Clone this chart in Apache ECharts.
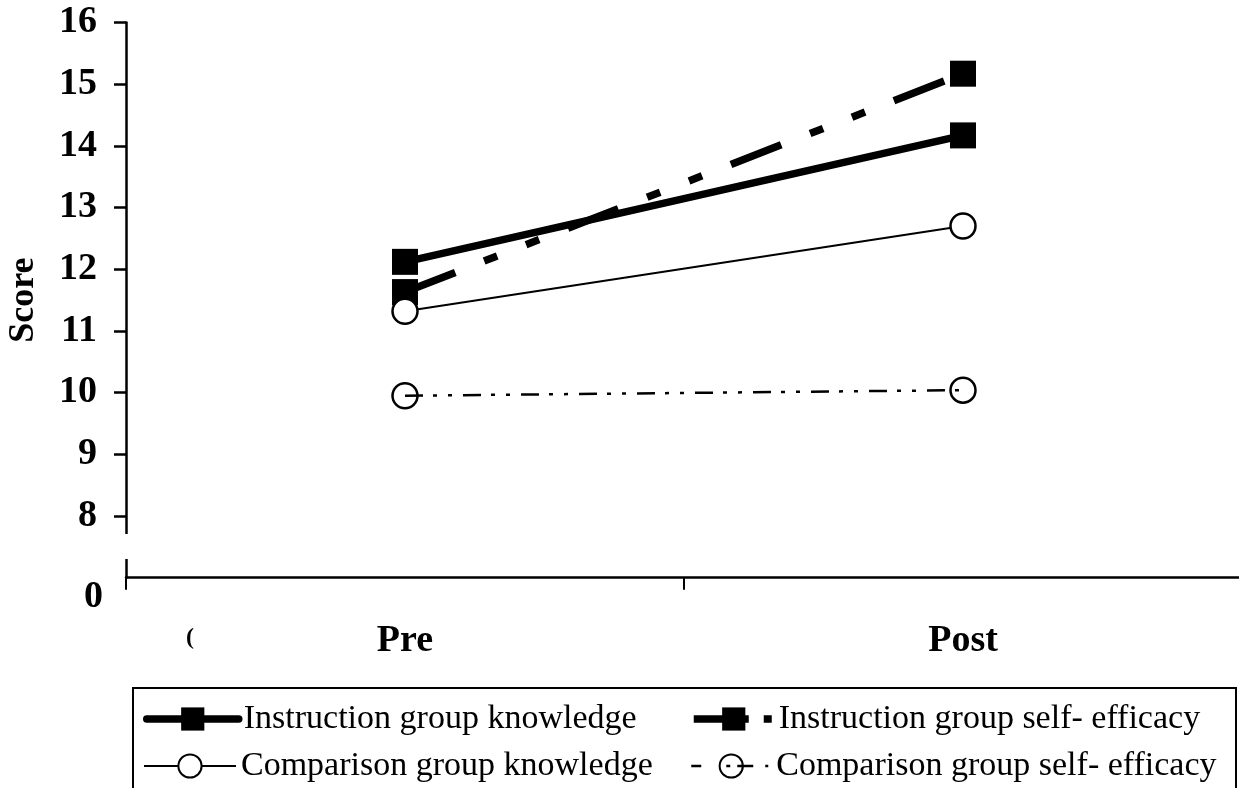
<!DOCTYPE html>
<html>
<head>
<meta charset="utf-8">
<script src="https://cdn.jsdelivr.net/npm/echarts@6/dist/echarts.min.js"></script>
<style>
html,body{margin:0;padding:0;background:#fff;}
#chart{width:1239px;height:788px;}
</style>
</head>
<body>
<div id="chart"></div>
<script>
// ---- data ----
const categories = ['Pre', 'Post'];
const seriesNames = [
  'Instruction group knowledge',
  'Instruction group self- efficacy',
  'Comparison group knowledge',
  'Comparison group self- efficacy'
];
const instructionKnowledge = [12.12, 14.17];
const instructionSelfEfficacy = [11.63, 15.17];
const comparisonKnowledge = [11.32, 12.70];
const comparisonSelfEfficacy = [9.95, 10.04];
// broken axis: the position of value 7 is labelled "0"
const yTickValues = [8, 9, 10, 11, 12, 13, 14, 15, 16];
const yBreakValue = [7];
const yBreakLabel = ['0'];
const yAxisTitle = 'Score';

const FONT = "'Liberation Serif', 'Times New Roman', serif";

const chart = echarts.init(document.getElementById('chart'), null, {renderer: 'canvas'});

function legendAt(name, left, top, itemWidth, lineStyle) {
  return {
    data: [name],
    left: left, top: top,
    orient: 'horizontal',
    padding: 0,
    itemWidth: itemWidth,
    itemHeight: 29,
    selectedMode: false,
    lineStyle: Object.assign({width: 'inherit'}, lineStyle || {}),
    textStyle: {fontFamily: FONT, fontSize: 34, color: '#000', lineHeight: 34}
  };
}

const option = {
  animation: false,
  backgroundColor: '#fff',
  grid: {left: 126, right: -3, top: 22.5, bottom: 210.3, containLabel: false, outerBoundsMode: 'none'},
  xAxis: {
    type: 'category',
    data: categories,
    boundaryGap: true,
    axisLine: {show: true, lineStyle: {color: '#000', width: 2.5}},
    axisTick: {show: true, length: 12, alignWithLabel: false, lineStyle: {color: '#000', width: 2}},
    axisLabel: {margin: 44, fontFamily: FONT, fontWeight: 'bold', fontSize: 38, color: '#000'},
    splitLine: {show: false}
  },
  yAxis: [{
    type: 'value',
    position: 'left',
    min: 7, max: 16, interval: 1,
    name: yAxisTitle,
    nameLocation: 'middle',
    nameRotate: 90,
    nameGap: 84,
    nameTextStyle: {fontFamily: FONT, fontWeight: 'bold', fontSize: 36, color: '#000'},
    axisLine: {show: true, lineStyle: {color: '#000', width: 2.5}},
    axisTick: {show: true, length: 12, customValues: yTickValues, lineStyle: {color: '#000', width: 2.5}},
    axisLabel: {show: true, customValues: yTickValues, margin: 29, fontFamily: FONT, fontWeight: 'bold', fontSize: 38, color: '#000'},
    splitLine: {show: false}
  }, {
    type: 'value',
    position: 'left',
    offset: 0,
    min: 7, max: 16, interval: 1,
    axisLine: {show: false},
    axisTick: {show: false},
    axisLabel: {
      show: true, customValues: yBreakValue, margin: 23, verticalAlign: 'top',
      formatter: function (v) { const i = yBreakValue.indexOf(v); return i >= 0 ? yBreakLabel[i] : ''; },
      fontFamily: FONT, fontWeight: 'bold', fontSize: 38, color: '#000'
    },
    splitLine: {show: false}
  }],
  legend: [
    legendAt(seriesNames[0], 143, 702, 92),
    legendAt(seriesNames[1], 690, 702, 80, {type: [55, 15, 8, 30]}),
    legendAt(seriesNames[2], 143, 749, 92),
    legendAt(seriesNames[3], 690, 749, 80, {type: [10, 25, 4, 7, 16, 12, 3, 10]})
  ],
  graphic: [
    {type: 'rect', z: 100, shape: {x: 118, y: 534, width: 14, height: 25}, style: {fill: '#fff'}},
    {type: 'rect', z: 100, shape: {x: 133, y: 688, width: 1103, height: 120}, style: {fill: 'none', stroke: '#000', lineWidth: 2}},
    {type: 'text', z: 100, left: 186, top: 626, style: {text: '(', fontFamily: FONT, fontWeight: 'bold', fontSize: 24, fill: '#000'}}
  ],
  series: [
    {
      name: seriesNames[0], type: 'line', data: instructionKnowledge,
      symbol: 'rect', symbolSize: 26,
      itemStyle: {color: '#000'},
      lineStyle: {color: '#000', width: 7.5, type: 'solid', cap: 'round'},
      emphasis: {disabled: true}, silent: true
    },
    {
      name: seriesNames[1], type: 'line', data: instructionSelfEfficacy,
      symbol: 'rect', symbolSize: 26,
      itemStyle: {color: '#000'},
      lineStyle: {color: '#000', width: 7.5, type: [54, 31, 14, 31, 14, 31], dashOffset: 0},
      emphasis: {disabled: true}, silent: true
    },
    {
      name: seriesNames[2], type: 'line', data: comparisonKnowledge,
      symbol: 'circle', symbolSize: 25,
      itemStyle: {color: '#fff', borderColor: '#000', borderWidth: 2.5},
      lineStyle: {color: '#000', width: 2, type: 'solid'},
      emphasis: {disabled: true}, silent: true
    },
    {
      name: seriesNames[3], type: 'line', data: comparisonSelfEfficacy,
      symbol: 'circle', symbolSize: 25,
      itemStyle: {color: 'rgba(255,255,255,0)', borderColor: '#000', borderWidth: 2.5},
      lineStyle: {color: '#000', width: 2.5, type: [18, 10, 4, 11, 4, 11], dashOffset: 0},
      emphasis: {disabled: true}, silent: true
    }
  ]
};
chart.setOption(option);
</script>
</body>
</html>
